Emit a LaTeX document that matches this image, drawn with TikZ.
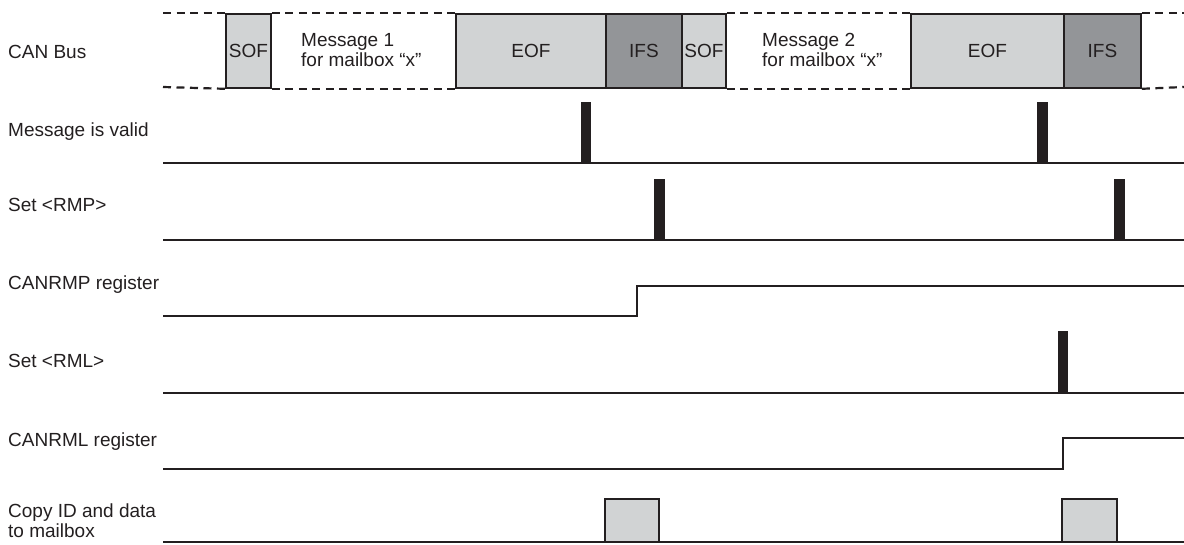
\documentclass[tikz,border=0pt]{standalone}
\usepackage{fontspec}
\setmainfont{Liberation Sans}
\definecolor{ink}{HTML}{231F20}
\definecolor{lgrey}{HTML}{D1D3D4}
\definecolor{dgrey}{HTML}{939598}
\begin{document}
\begin{tikzpicture}[x=1pt,y=-1pt,
  txt/.style={font=\fontsize{19}{20}\selectfont, text=ink},
  lbl/.style={txt, anchor=base west, inner sep=0pt},
  field/.style={txt, draw=ink, line width=1.8pt, minimum height=74pt, inner sep=0pt, anchor=north west},
  lightfield/.style={field, fill=lgrey},
  darkfield/.style={field, fill=dgrey},
  bus/.style={ink, line width=2.2pt, dash pattern=on 8pt off 5.5pt},
  sig/.style={ink, line width=2.2pt},
  pulse/.style={fill=ink, draw=none},
  copybox/.style={draw=ink, fill=lgrey, line width=2pt}]
\useasboundingbox (0,0) rectangle (1184,544);

% labels
\node[lbl] (lcan) at (8,58) {CAN Bus};
\node[lbl] (lval) at (8,136) {Message is valid};
\node[lbl] (lrmp) at (8,211) {Set <RMP>};
\node[lbl] (lrmpr) at (8,289) {CANRMP register};
\node[lbl] (lrml) at (8,367) {Set <RML>};
\node[lbl] (lrmlr) at (8,446) {CANRML register};
\node[lbl] (lcopy1) at (8,517) {Copy ID and data};
\node[lbl] (lcopy2) at (8,537) {to mailbox};

% CAN bus fields
\node[lightfield, minimum width=45pt] (sof1) at (225,13) {SOF};
\node[lightfield, minimum width=150pt] (eof1) at (455,13) {EOF};
\node[darkfield, minimum width=76pt] (ifs1) at (605,13) {IFS};
\node[lightfield, minimum width=44pt] (sof2) at (681,13) {SOF};
\node[lightfield, minimum width=153pt] (eof2) at (910,13) {EOF};
\node[darkfield, minimum width=77pt] (ifs2) at (1063,13) {IFS};

\node[txt, anchor=west, align=left, inner sep=0pt] (msg1) at (301,50) {Message 1\\for mailbox “x”};
\node[txt, anchor=west, align=left, inner sep=0pt] (msg2) at (762,50) {Message 2\\for mailbox “x”};

\coordinate (bt0) at (163,13);
\coordinate (bb0) at (163,87);
\coordinate (bt9) at (1184,13);
\coordinate (bb9) at (1184,87);
\draw[bus] (bt0) -- (sof1.north west);
\draw[bus] (bb0) -- (sof1.south west);
\draw[bus] (sof1.north east) -- (eof1.north west);
\draw[bus] (sof1.south east) -- (eof1.south west);
\draw[bus] (sof2.north east) -- (eof2.north west);
\draw[bus] (sof2.south east) -- (eof2.south west);
\draw[bus] (ifs2.north east) -- (bt9);
\draw[bus] (ifs2.south east) -- (bb9);

% Message is valid
\coordinate (v0) at (163,163);
\coordinate (v9) at (1184,163);
\draw[sig] (v0) -- (v9);
\fill[pulse] (581,102) rectangle (591,164);
\fill[pulse] (1037,102) rectangle (1048,164);

% Set <RMP>
\coordinate (r0) at (163,240);
\coordinate (r9) at (1184,240);
\draw[sig] (r0) -- (r9);
\fill[pulse] (654,179) rectangle (665,241);
\fill[pulse] (1114,179) rectangle (1125,241);

% CANRMP register
\coordinate (rr0) at (163,316);
\coordinate (rr9) at (1184,286);
\draw[sig] (rr0) -- (637,316) -- (637,286) -- (rr9);

% Set <RML>
\coordinate (l0) at (163,393);
\coordinate (l9) at (1184,393);
\draw[sig] (l0) -- (l9);
\fill[pulse] (1058,331) rectangle (1068,394);

% CANRML register
\coordinate (lr0) at (163,469);
\coordinate (lr9) at (1184,438);
\draw[sig] (lr0) -- (1063,469) -- (1063,438) -- (lr9);

% Copy ID and data to mailbox
\coordinate (c0) at (163,542);
\coordinate (c9) at (1184,542);
\draw[copybox] (605,542) rectangle (659,499);
\draw[copybox] (1062,542) rectangle (1117,499);
\draw[sig] (c0) -- (c9);
\end{tikzpicture}
\end{document}
